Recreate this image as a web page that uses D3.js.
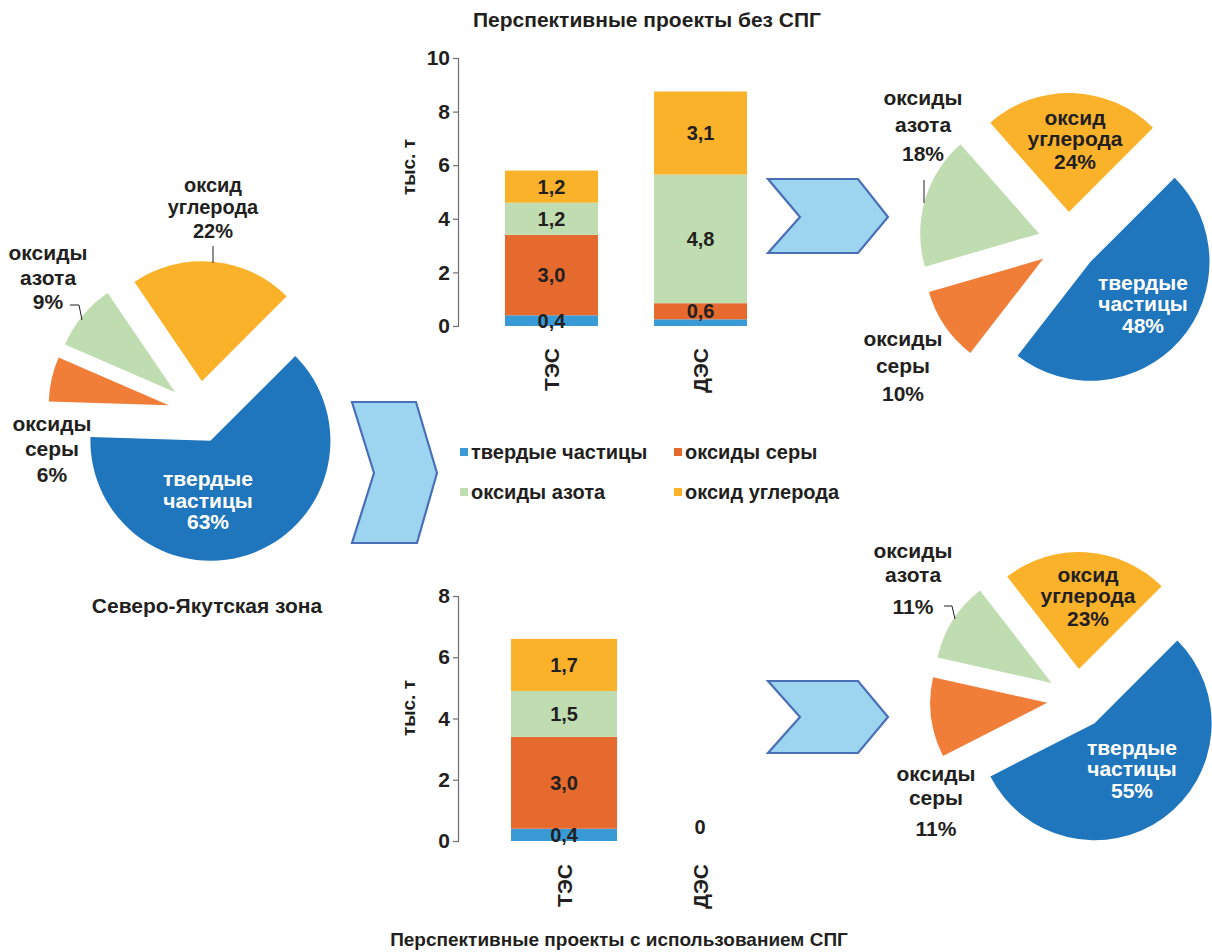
<!DOCTYPE html>
<html>
<head>
<meta charset="utf-8">
<script src="https://cdn.jsdelivr.net/npm/d3@7/dist/d3.min.js"></script>
<style>
  body { margin: 0; background: #fff; }
  svg text { font-family: "Liberation Sans", Arial, sans-serif; font-weight: bold; fill: #231f20; }
</style>
</head>
<body>
<svg id="chart" width="1212" height="952"></svg>
<script>
// ---- data ----
const pollutants = ["твердые частицы", "оксиды серы", "оксиды азота", "оксид углерода"];
const plantTypes = ["ТЭС", "ДЭС"];

// emissions, thousand tonnes, projects without LNG
const noLngParticulates = [0.4, 0.25];
const noLngSulfur       = [3.0, 0.6];
const noLngNitrogen     = [1.2, 4.8];
const noLngCarbon       = [1.2, 3.1];
// emissions, thousand tonnes, projects with LNG
const lngParticulates = [0.4, 0];
const lngSulfur       = [3.0, 0];
const lngNitrogen     = [1.5, 0];
const lngCarbon       = [1.7, 0];

const ticksNoLng = [0, 2, 4, 6, 8, 10];
const ticksLng   = [0, 2, 4, 6, 8];

// emission structure, %
const northYakutShares = [63, 6, 9, 22];
const noLngShares      = [48, 10, 18, 24];
const lngShares        = [55, 11, 11, 23];

const pieLabelLines = [["твердые", "частицы"], ["оксиды", "серы"], ["оксиды", "азота"], ["оксид", "углерода"]];

// ---- styles ----
const barColors = ["#3a9ad6", "#e66a2e", "#c0ddb1", "#fbb22b"];
const pieColors = ["#1f76bd", "#f07d38", "#c0ddb1", "#fbb22b"];
const textColor = "#231f20";
const FS_TICK = 21, FS_VALUE = 20, FS_CAT = 21, FS_LEGEND = 20, FS_PIE = 21;

const svg = d3.select("#chart");

function rowsFrom(arrs) {
  return plantTypes.map((p, i) => {
    const r = { plant: p };
    pollutants.forEach((k, j) => r[k] = arrs[j][i]);
    return r;
  });
}

function stackedBars(opts) {
  const rows = rowsFrom(opts.series);
  const g = svg.append("g");
  const x = d3.scaleBand().domain(plantTypes).range(opts.xRange)
    .paddingInner(opts.padIn).paddingOuter(opts.padOut);
  const y = d3.scaleLinear().domain([0, opts.ticks[opts.ticks.length - 1]]).range(opts.yRange);
  const stacked = d3.stack().keys(pollutants)(rows);

  // bars
  stacked.forEach((layer, li) => {
    g.append("g").selectAll("rect").data(layer).join("rect")
      .attr("x", d => x(d.data.plant))
      .attr("width", x.bandwidth())
      .attr("y", d => y(d[1]))
      .attr("height", d => y(d[0]) - y(d[1]))
      .attr("fill", barColors[li]);
  });

  // value labels
  stacked.forEach((layer) => {
    g.append("g").selectAll("text").data(layer.filter(d => d[1] - d[0] >= 0.3)).join("text")
      .attr("x", d => x(d.data.plant) + x.bandwidth() / 2)
      .attr("y", d => (y(d[0]) + y(d[1])) / 2)
      .attr("dy", "0.36em")
      .attr("text-anchor", "middle")
      .style("font-size", FS_VALUE + "px")
      .text(d => d3.format(".1f")(d[1] - d[0]).replace(".", ","));
  });
  // zero totals
  rows.forEach(r => {
    const total = d3.sum(pollutants, k => r[k]);
    if (total === 0) {
      g.append("text")
        .attr("x", x(r.plant) + x.bandwidth() / 2)
        .attr("y", y(0) - 7)
        .attr("text-anchor", "middle")
        .style("font-size", FS_VALUE + "px")
        .text("0");
    }
  });

  // y axis
  const ax = g.append("g")
    .attr("transform", `translate(${opts.xRange[0]},0)`)
    .call(d3.axisLeft(y).tickValues(opts.ticks).tickSize(5).tickPadding(3).tickFormat(d3.format("d")));
  ax.select(".domain").attr("stroke", "#6d6e70").attr("stroke-width", 1.2);
  ax.selectAll(".tick line").attr("stroke", "#6d6e70").attr("stroke-width", 1.2);
  ax.selectAll(".tick text").attr("fill", textColor)
    .style("font-size", FS_TICK + "px").style("font-family", "Liberation Sans, Arial, sans-serif").style("font-weight", "bold");

  // axis title
  g.append("text")
    .attr("transform", `translate(${opts.titleX},${opts.titleY}) rotate(-90)`)
    .attr("text-anchor", "middle")
    .style("font-size", "19px")
    .text("тыс. т");

  // category labels, rotated
  plantTypes.forEach(p => {
    g.append("text")
      .attr("transform", `translate(${x(p) + x.bandwidth() / 2},${opts.catY}) rotate(-90)`)
      .attr("text-anchor", "end")
      .attr("dy", "0.36em")
      .style("font-size", FS_CAT + "px")
      .text(p);
  });
}

stackedBars({
  series: [noLngParticulates, noLngSulfur, noLngNitrogen, noLngCarbon],
  ticks: ticksNoLng, xRange: [458, 794], padIn: 0.376, padOut: 0.315,
  yRange: [326, 58], titleX: 415, titleY: 167, catY: 348
});
stackedBars({
  series: [lngParticulates, lngSulfur, lngNitrogen, lngCarbon],
  ticks: ticksLng, xRange: [458, 806], padIn: 0.22, padOut: 0.39,
  yRange: [841, 596], titleX: 415, titleY: 708, catY: 864
});

// chart titles
svg.append("text").attr("x", 647).attr("y", 27).attr("text-anchor", "middle")
  .style("font-size", "21px").text("Перспективные проекты без СПГ");
svg.append("text").attr("x", 619).attr("y", 946).attr("text-anchor", "middle")
  .style("font-size", "19px").text("Перспективные проекты с использованием СПГ");

// ---- legend ----
const legend = svg.append("g");
const legendPos = [[460, 452], [674, 452], [460, 492], [674, 492]];
pollutants.forEach((k, i) => {
  const [lx, ly] = legendPos[i];
  legend.append("rect").attr("x", lx).attr("y", ly - 4).attr("width", 8).attr("height", 8).attr("fill", barColors[i]);
  legend.append("text").attr("x", lx + 11).attr("y", ly).attr("dy", "0.36em")
    .style("font-size", FS_LEGEND + "px").text(k);
});

// ---- pies ----
function explodedPie(opts) {
  const g = svg.append("g").attr("transform", `translate(${opts.cx},${opts.cy})`);
  const a0 = Math.PI / 4;
  const arcs = d3.pie().sort(null).startAngle(a0).endAngle(a0 + 2 * Math.PI)(opts.shares);
  const arc = d3.arc().innerRadius(0).outerRadius(opts.r);
  g.selectAll("path").data(arcs).join("path")
    .attr("transform", d => {
      const m = (d.startAngle + d.endAngle) / 2;
      return `translate(${Math.sin(m) * opts.explode},${-Math.cos(m) * opts.explode})`;
    })
    .attr("d", arc)
    .attr("fill", (d, i) => pieColors[i]);

  opts.labels.forEach((lab, i) => {
    const lines = [...pieLabelLines[i], opts.shares[i] + "%"];
    lines.forEach((t, j) => {
      svg.append("text")
        .attr("x", lab.x).attr("y", lab.ys[j]).attr("dy", "0.36em")
        .attr("text-anchor", "middle")
        .style("font-size", (lab.fs || FS_PIE) + "px")
        .style("fill", i === 0 ? "#ffffff" : textColor)
        .text(t);
    });
    if (lab.leader) {
      svg.append("path").attr("d", d3.line()(lab.leader))
        .attr("fill", "none").attr("stroke", "#231f20").attr("stroke-width", 1);
    }
  });
}

explodedPie({
  cx: 199, cy: 412, r: 120, explode: 31, shares: northYakutShares,
  labels: [
    { x: 208, ys: [478, 500, 521] },
    { x: 52, ys: [423, 448, 474] },
    { x: 48, ys: [252, 277, 301], leader: [[70, 305], [79, 305], [82, 320]] },
    { x: 213, ys: [185, 207, 231], fs: 20, leader: [[213, 246], [213, 263]] }
  ]
});
explodedPie({
  cx: 1068, cy: 242, r: 119, explode: 30, shares: noLngShares,
  labels: [
    { x: 1143, ys: [282, 303, 325] },
    { x: 903, ys: [338, 365, 393] },
    { x: 923, ys: [97, 124, 153], leader: [[924, 180], [924, 203]] },
    { x: 1075, ys: [117, 138, 161] }
  ]
});
explodedPie({
  cx: 1077, cy: 699, r: 117, explode: 30, shares: lngShares,
  labels: [
    { x: 1132, ys: [747, 768, 790] },
    { x: 936, ys: [773, 797, 828] },
    { x: 913, ys: [550, 574, 606], leader: [[944, 606], [952, 606], [955, 619]] },
    { x: 1088, ys: [574, 595, 618] }
  ]
});

// ---- Северо-Якутская зона caption ----
svg.append("text").attr("x", 207).attr("y", 613).attr("text-anchor", "middle")
  .style("font-size", "21px").text("Северо-Якутская зона");

// ---- chevron arrows ----
function chevron(pts) {
  svg.append("path").attr("d", d3.line()(pts) + "Z")
    .attr("fill", "#9dd4f0").attr("stroke", "#4a6fb6").attr("stroke-width", 2.2)
    .attr("stroke-linejoin", "miter");
}
chevron([[768, 179], [858, 179], [888, 217], [858, 253], [768, 253], [800, 217]]);
chevron([[768, 681], [858, 681], [888, 717], [858, 753], [768, 753], [800, 717]]);
chevron([[352, 402], [416, 402], [437, 473], [417, 543], [352, 543], [374, 473]]);
</script>
</body>
</html>
